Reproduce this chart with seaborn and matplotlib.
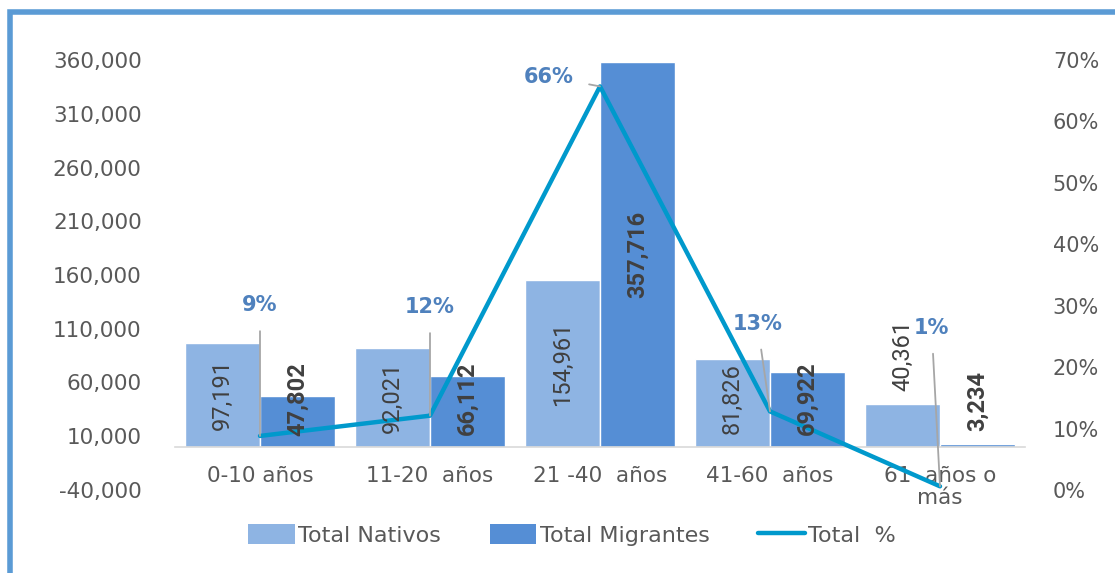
import matplotlib
matplotlib.use("Agg")
import matplotlib.pyplot as plt
import matplotlib.ticker as mticker
from matplotlib.patches import Patch, Rectangle
from matplotlib.lines import Line2D
import numpy as np
import pandas as pd
import seaborn as sns

categories = ["0-10 años", "11-20  años", "21 -40  años", "41-60  años", "61  años o\nmás"]
nativos = [97191, 92021, 154961, 81826, 40361]
migrantes = [47802, 66112, 357716, 69922, 3234]
total_pct = [0.088, 0.121, 0.657, 0.128, 0.006]
pct_labels = ["9%", "12%", "66%", "13%", "1%"]
series_names = ["Total Nativos", "Total Migrantes"]
line_name = "Total  %"

c_nat = "#8EB4E3"
c_mig = "#558ED5"
c_line = "#0099CC"
c_pct = "#4F81BD"
c_txt = "#595959"
c_lab = "#404040"

sns.set_theme(style="white")
plt.rcParams["font.family"] = ["DejaVu Sans"]

df = pd.DataFrame({
    "cat": categories * 2,
    "val": nativos + migrantes,
    "serie": [series_names[0]] * len(categories) + [series_names[1]] * len(categories),
})

fig = plt.figure(figsize=(11.15, 5.73), dpi=100)
ax = fig.add_axes([175 / 1115, 1 - 490 / 573, 850 / 1115, 430 / 573])

sns.barplot(data=df, x="cat", y="val", hue="serie", order=categories,
            hue_order=series_names, palette=[c_nat, c_mig], width=0.88,
            saturation=1, ax=ax, legend=False, errorbar=None)

ax.set_ylim(-40000, 360000)
ax.set_yticks(np.arange(-40000, 360001, 50000))
ax.yaxis.set_major_formatter(mticker.FuncFormatter(lambda v, p: f"{int(v):,}"))
ax.set_xlim(-0.5, len(categories) - 0.5)
ax.set_xlabel("")
ax.set_ylabel("")
for s in ["top", "right", "left"]:
    ax.spines[s].set_visible(False)
ax.spines["bottom"].set_position(("data", 0))
ax.spines["bottom"].set_color("#D9D9D9")
ax.spines["bottom"].set_linewidth(1.2)
ax.tick_params(axis="y", length=0, pad=24, labelsize=15.5, labelcolor=c_txt)
ax.tick_params(axis="x", length=0, pad=14, labelsize=15.5, labelcolor=c_txt)
for t in ax.get_xticklabels():
    t.set_linespacing(1.1)

ax2 = ax.twinx()
sns.lineplot(x=np.arange(len(categories)), y=total_pct, ax=ax2, color=c_line,
             linewidth=3.2, legend=False)
ax2.set_ylim(0, 0.70)
ax2.set_yticks(np.arange(0, 0.701, 0.1))
ax2.yaxis.set_major_formatter(mticker.FuncFormatter(lambda v, p: f"{v*100:.0f}%"))
for s in ["top", "right", "left", "bottom"]:
    ax2.spines[s].set_visible(False)
ax2.tick_params(axis="y", length=0, pad=20, labelsize=15, labelcolor=c_txt)
ax2.set_ylabel("")

# bar value labels (drawn on top of the line, in bar-axis data coords)
lab_font = ["Roboto", "DejaVu Sans"]
for ci, container in enumerate(ax.containers):
    vals = nativos if ci == 0 else migrantes
    for bar, v in zip(container, vals):
        xc = bar.get_x() + bar.get_width() / 2
        kw = dict(rotation=90, ha="center", fontsize=17, color=c_lab, family=lab_font,
                  fontweight="bold" if ci == 1 else "normal",
                  transform=ax.transData, zorder=5)
        if v < 45000:
            ax2.text(xc, v + 12000, f"{v:,}", va="bottom", **kw)
        else:
            ax2.text(xc, max(v / 2, 45000), f"{v:,}", va="center", **kw)

offsets = [(0, 94), (0, 78), (-37, 7), (-9, 63), (-6, 114)]
for i, (p, lab) in enumerate(zip(total_pct, pct_labels)):
    ax2.annotate(lab, xy=(i, p), xytext=offsets[i], textcoords="offset points",
                 ha="center", va="center", fontsize=15, fontweight="bold", color=c_pct,
                 arrowprops=dict(arrowstyle="-", color="#A6A6A6", lw=1.3,
                                 shrinkA=9, shrinkB=0))

handles = [Patch(facecolor=c_nat, edgecolor="none"),
           Patch(facecolor=c_mig, edgecolor="none"),
           Line2D([0], [0], color=c_line, lw=3.2)]
fig.legend(handles, series_names + [line_name], loc="center", ncol=3,
           bbox_to_anchor=(572 / 1115, 1 - 535 / 573), frameon=False,
           fontsize=16, labelcolor=c_txt, columnspacing=2.2, handlelength=2.1,
           handleheight=1.0, handletextpad=0.15)

fig.patches.append(Rectangle((10 / 1115, -0.1), 1.2, 1 - 12 / 573 + 0.1,
                             transform=fig.transFigure, fill=False,
                             edgecolor="#5B9BD5", linewidth=4, zorder=10))

fig.savefig("out.png", dpi=100)
